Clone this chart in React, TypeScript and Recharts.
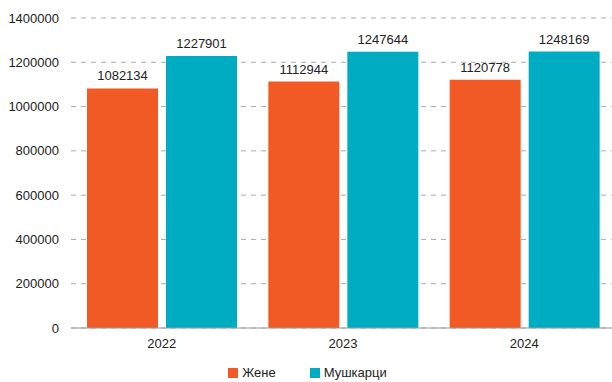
import React from 'react';
import { BarChart, Bar, XAxis, YAxis, CartesianGrid, Legend, LabelList } from 'recharts';

const years = ['2022', '2023', '2024'];
const women = [1082134, 1112944, 1120778];
const men = [1227901, 1247644, 1248169];
const yTicks = [0, 200000, 400000, 600000, 800000, 1000000, 1200000, 1400000];
const seriesNames = ['Жене', 'Мушкарци'];
const seriesColors = ['#F15A24', '#00ACC1'];

const data = years.map((y, i) => ({ year: y, women: women[i], men: men[i] }));

const FONT = '"Liberation Sans", Arial, sans-serif';

const LegendContent = () => (
  <div
    style={{
      height: 22,
      display: 'flex',
      justifyContent: 'center',
      alignItems: 'flex-end',
      fontFamily: FONT,
      fontSize: 13,
      color: '#222222',
    }}
  >
    {seriesNames.map((n, i) => (
      <div
        key={n}
        style={{ display: 'flex', alignItems: 'center', height: 14, marginLeft: i === 0 ? 0 : 34 }}
      >
        <span style={{ width: 10, height: 10, background: seriesColors[i], display: 'inline-block', marginRight: 4 }} />
        <span style={{ lineHeight: '14px' }}>{n}</span>
      </div>
    ))}
  </div>
);

export default function App() {
  return (
    <div style={{ position: 'absolute', left: 0, top: 0, fontFamily: FONT }}>
      <BarChart
        width={615}
        height={382}
        data={data}
        margin={{ top: 18, right: 0, left: 0, bottom: 2 }}
        barGap={8}
        barSize={71}
      >
        <CartesianGrid vertical={false} stroke="#aaaaaa" strokeDasharray="5 5" />
        <XAxis
          dataKey="year"
          tickLine={false}
          axisLine={{ stroke: '#999999' }}
          tickSize={0}
          tickMargin={11}
          height={30}
          tick={{ fill: '#222222', fontSize: 13, fontFamily: FONT }}
        />
        <YAxis
          width={71}
          domain={[0, 1400000]}
          ticks={yTicks}
          tickLine={false}
          axisLine={false}
          tickSize={6}
          tickMargin={6}
          interval={0}
          tick={{ fill: '#222222', fontSize: 13, fontFamily: FONT }}
        />
        <Legend verticalAlign="bottom" height={22} content={<LegendContent />} />
        <Bar dataKey="women" name={seriesNames[0]} fill={seriesColors[0]} isAnimationActive={false}>
          <LabelList dataKey="women" position="top" offset={8} style={{ fill: '#222222', fontSize: 13, fontFamily: FONT }} />
        </Bar>
        <Bar dataKey="men" name={seriesNames[1]} fill={seriesColors[1]} isAnimationActive={false}>
          <LabelList dataKey="men" position="top" offset={8} style={{ fill: '#222222', fontSize: 13, fontFamily: FONT }} />
        </Bar>
      </BarChart>
    </div>
  );
}
